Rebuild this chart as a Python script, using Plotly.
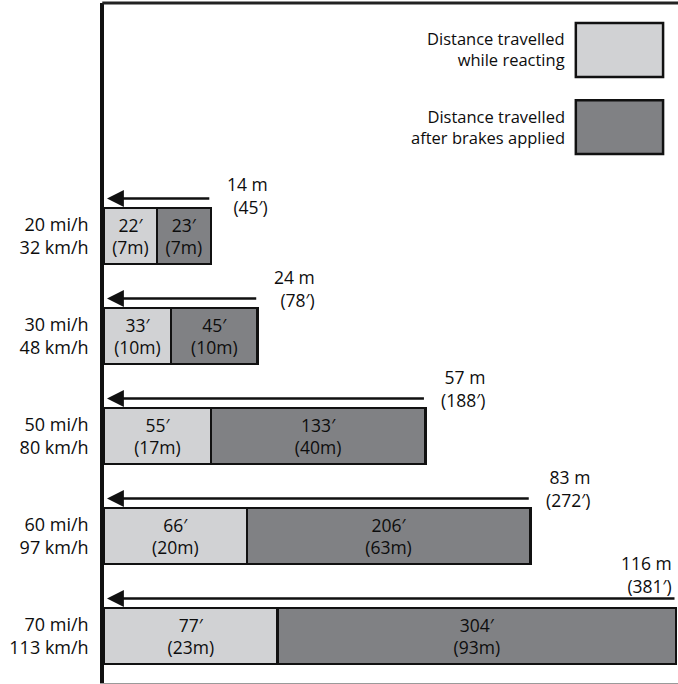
import plotly.graph_objects as go

# ---- data ----
speeds = ["20 mi/h<br>32 km/h", "30 mi/h<br>48 km/h", "50 mi/h<br>80 km/h",
          "60 mi/h<br>97 km/h", "70 mi/h<br>113 km/h"]
react_ft = ["22′", "33′", "55′", "66′", "77′"]
react_m = ["(7m)", "(10m)", "(17m)", "(20m)", "(23m)"]
brake_ft = ["23′", "45′", "133′", "206′", "304′"]
brake_m = ["(7m)", "(10m)", "(40m)", "(63m)", "(93m)"]
total_m = ["14 m", "24 m", "57 m", "83 m", "116 m"]
total_ft = ["(45′)", "(78′)", "(188′)", "(272′)", "(381′)"]
# drawn lengths of the bar segments as they appear in the chart (chart units)
react_len = [53, 67, 107, 143, 174]
brake_len = [54, 87, 215, 284, 399]

rows = list(range(len(speeds)))
totals = [a + b for a, b in zip(react_len, brake_len)]

FONT = "Open Sans, Noto Sans, DejaVu Sans, sans-serif"
LIGHT = "#d1d2d4"
DARK = "#808184"
EDGE = "#111111"
TXT = "#0d0d0d"

fig = go.Figure()
fig.add_trace(go.Bar(
    y=rows, x=react_len, orientation="h", width=0.56,
    marker=dict(color=LIGHT, line=dict(color=EDGE, width=2.5)),
    text=[f"{a}<br>{b}" for a, b in zip(react_ft, react_m)],
    textposition="inside", insidetextanchor="middle", constraintext="none",
    textfont=dict(family=FONT, size=17.5, color=TXT),
    name="Distance travelled while reacting", hoverinfo="skip"))
fig.add_trace(go.Bar(
    y=rows, x=brake_len, orientation="h", width=0.56,
    marker=dict(color=DARK, line=dict(color=EDGE, width=2.5)),
    text=[f"{a}<br>{b}" for a, b in zip(brake_ft, brake_m)],
    textposition="inside", insidetextanchor="middle", constraintext="none",
    textfont=dict(family=FONT, size=17.5, color=TXT),
    name="Distance travelled after brakes applied", hoverinfo="skip"))

annotations = []
for r, t, tm, tf in zip(rows, totals, total_m, total_ft):
    ya = r - 0.375
    # arrow from end of stopping distance back to start
    annotations.append(dict(
        x=3, y=ya, ax=t, ay=ya, xref="x", yref="y", axref="x", ayref="y",
        text="", showarrow=True, arrowhead=2, arrowsize=1.3, arrowwidth=2.6,
        arrowcolor=EDGE, standoff=0, startstandoff=0))
    last = r == rows[-1]
    first = r == rows[0]
    annotations.append(dict(
        x=t, y=ya, xref="x", yref="y", text=f"{tm}<br>{tf}",
        showarrow=False, align="right",
        xanchor="right" if last else "left",
        xshift=-2 if last else 14,
        yanchor="middle", yshift=24 if last else (3 if first else 10),
        font=dict(family=FONT, size=17.5, color=TXT)))

# custom legend
annotations.append(dict(
    x=0.807, y=0.932, xref="paper", yref="paper", showarrow=False,
    text="Distance travelled<br>while reacting", align="right",
    xanchor="right", yanchor="middle",
    font=dict(family=FONT, size=16.5, color=TXT)))
annotations.append(dict(
    x=0.807, y=0.818, xref="paper", yref="paper", showarrow=False,
    text="Distance travelled<br>after brakes applied", align="right",
    xanchor="right", yanchor="middle",
    font=dict(family=FONT, size=16.5, color=TXT)))

shapes = [
    dict(type="rect", xref="paper", yref="paper", x0=0.822, x1=0.974,
         y0=0.891, y1=0.9706, fillcolor=LIGHT, line=dict(color=EDGE, width=2.5)),
    dict(type="rect", xref="paper", yref="paper", x0=0.822, x1=0.974,
         y0=0.778, y1=0.857, fillcolor=DARK, line=dict(color=EDGE, width=2.5)),
    dict(type="line", xref="paper", yref="paper", x0=-0.003, x1=1,
         y0=1, y1=1, line=dict(color="#222", width=3)),
]

fig.update_layout(
    width=678, height=684,
    margin=dict(l=104, r=0, t=3, b=1),
    paper_bgcolor="white", plot_bgcolor="white",
    barmode="stack", showlegend=False,
    annotations=annotations, shapes=shapes,
    xaxis=dict(range=[0, 575], showgrid=False, zeroline=False,
               showticklabels=False, ticks="", showline=True,
               linecolor="#9a9a9a", linewidth=1, fixedrange=True),
    yaxis=dict(tickvals=rows, ticktext=speeds, range=[4.47, -2.33],
               showgrid=False, zeroline=False, ticks="",
               showline=True, linecolor="#111", linewidth=3.5,
               ticklabelstandoff=8, automargin=False,
               tickfont=dict(family=FONT, size=18, color=TXT),
               fixedrange=True),
)

fig.write_html("out.html",
               config={"displayModeBar": False},
               post_script="document.body.style.margin='0';"
                           "document.body.style.overflow='hidden';")
